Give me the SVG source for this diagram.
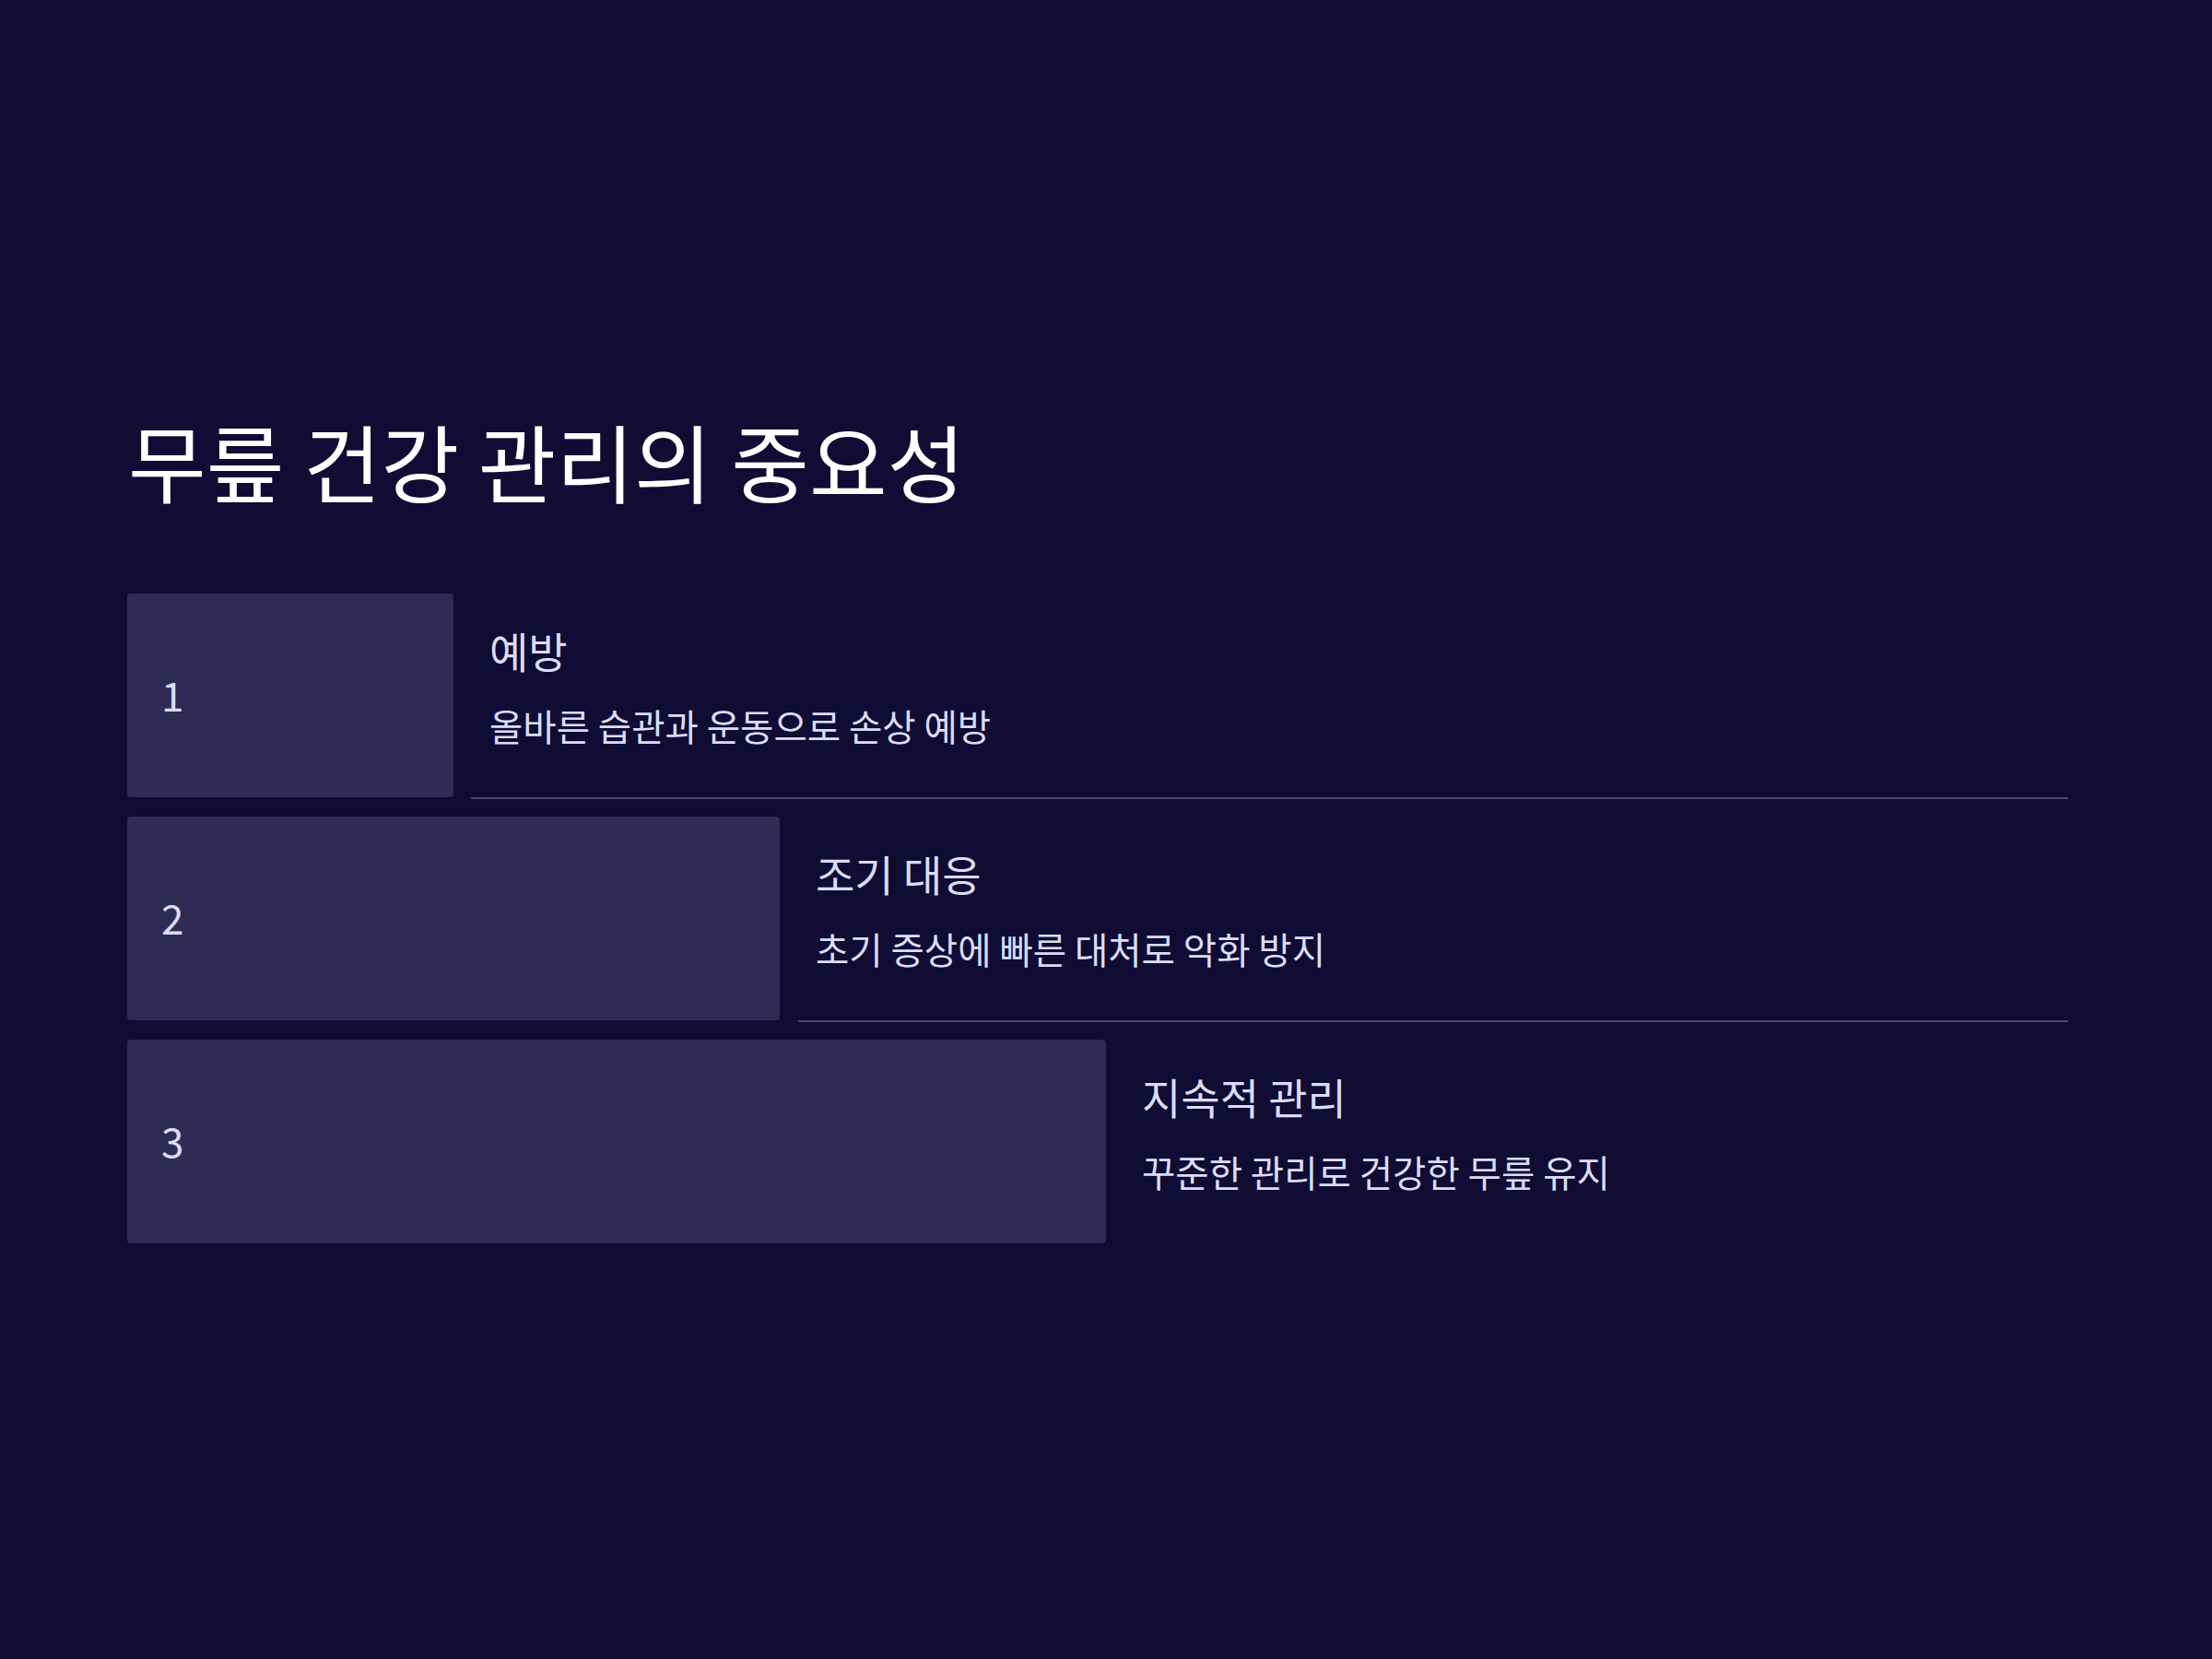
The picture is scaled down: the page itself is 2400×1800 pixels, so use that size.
<svg xmlns="http://www.w3.org/2000/svg" width="2400" height="1800" viewBox="0 0 2400 1800">
<style>
.bg{fill:#100c34}
.box{fill:#302b54}
.sep{stroke:#4b4673;stroke-width:2}
.title{font-family:"Noto Sans CJK KR","Noto Sans",sans-serif;font-size:92px;fill:#ffffff}
.num{font-family:"Noto Sans CJK KR","Noto Sans",sans-serif;font-size:44px;fill:#dcdcf6}
.head{font-family:"Noto Sans CJK KR","Noto Sans",sans-serif;font-size:46px;fill:#dcdcf6}
.desc{font-family:"Noto Sans CJK KR","Noto Sans",sans-serif;font-size:39.5px;fill:#dcdcf6}
</style>
<rect class="bg" x="0" y="0" width="2400" height="1800"/>
<text id="title" class="title" x="139" y="539">무릎 건강 관리의 중요성</text>
<g id="connectors">
<line class="sep" x1="511" y1="866" x2="2244" y2="866"/>
<line class="sep" x1="866" y1="1108" x2="2244" y2="1108"/>
</g>
<g id="step1">
<rect class="box" x="138" y="644" width="354" height="221" rx="4"/>
<text class="num" x="175" y="772">1</text>
<text class="head" x="531" y="725">예방</text>
<text class="desc" x="531" y="804">올바른 습관과 운동으로 손상 예방</text>
</g>
<g id="step2">
<rect class="box" x="138" y="886" width="708" height="221" rx="4"/>
<text class="num" x="175" y="1014">2</text>
<text class="head" x="885" y="967">조기 대응</text>
<text class="desc" x="885" y="1046">초기 증상에 빠른 대처로 악화 방지</text>
</g>
<g id="step3">
<rect class="box" x="138" y="1128" width="1062" height="221" rx="4"/>
<text class="num" x="175" y="1256">3</text>
<text class="head" x="1239" y="1209">지속적 관리</text>
<text class="desc" x="1239" y="1288">꾸준한 관리로 건강한 무릎 유지</text>
</g>
</svg>
